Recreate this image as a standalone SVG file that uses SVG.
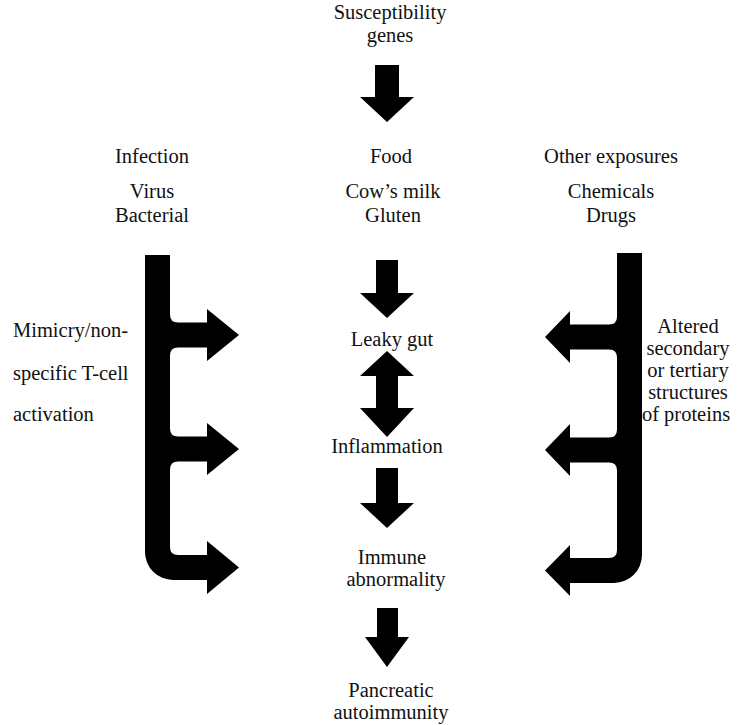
<svg xmlns="http://www.w3.org/2000/svg" width="740" height="725" viewBox="0 0 740 725">
<style>
text{font-family:"Liberation Serif","Times New Roman",serif;font-size:20.5px;fill:#111;}
.c{text-anchor:middle;}
.arr{fill:#000;stroke:none;}
</style>
<rect width="740" height="725" fill="#fff"/>
<g id="genes"><text class="c" x="390" y="19">Susceptibility</text><text class="c" x="390" y="42">genes</text></g>
<g id="infection"><text class="c" x="152" y="163">Infection</text><text class="c" x="152" y="198">Virus</text><text class="c" x="152" y="222">Bacterial</text></g>
<g id="food"><text class="c" x="391" y="163">Food</text><text class="c" x="393" y="198">Cow’s milk</text><text class="c" x="393" y="222">Gluten</text></g>
<g id="other"><text class="c" x="611" y="163">Other exposures</text><text class="c" x="611" y="198">Chemicals</text><text class="c" x="611" y="222">Drugs</text></g>
<g id="leaky"><text class="c" x="392" y="346">Leaky gut</text></g>
<g id="inflammation"><text class="c" x="387" y="453">Inflammation</text></g>
<g id="immune"><text class="c" x="392" y="564">Immune</text><text class="c" x="396" y="586">abnormality</text></g>
<g id="pancreatic"><text class="c" x="391" y="697">Pancreatic</text><text class="c" x="391" y="719">autoimmunity</text></g>
<g id="mimicry"><text x="13" y="337">Mimicry/non-</text><text x="13" y="380">specific T-cell</text><text x="13" y="421">activation</text></g>
<g id="altered"><text class="c" x="688" y="333">Altered</text><text class="c" x="688" y="355">secondary</text><text class="c" x="688" y="377">or tertiary</text><text class="c" x="688" y="399">structures</text><text class="c" x="686" y="421">of proteins</text></g>
<g id="connectors">
<path class="arr" d="M375,65 H399 V97 H414 L387,122 L360,97 H375 Z"/>
<path class="arr" d="M376,260 H398 V293 H414 L387,318 L360,293 H376 Z"/>
<path class="arr" d="M387,351 L414,376 H398 V408 H414 L387,437 L360,408 H376 V376 H360 Z"/>
<path class="arr" d="M376,468 H398 V503 H414 L387,528 L360,503 H376 Z"/>
<path class="arr" d="M377,608 H398 V637 H409 L387,667 L365,637 H377 Z"/>
<path class="arr" d="M145,255 H170 V314.5 Q170,322.5 178,322.5 H207 V309 L239,335 L207,361 V347.5 H178 Q170,347.5 170,355.5 V428.5 Q170,436.5 178,436.5 H207 V423 L239,449 L207,475 V461.5 H178 Q170,461.5 170,469.5 V547 Q170,555 178,555 H207 V541 L239,567.5 L207,594 V580 H173 A28,28 0 0 1 145,552 Z"/>
<path class="arr" d="M617,253 H642 V555 A28,28 0 0 1 614,583 H570 V596 L545,570.5 L570,545 V558 H609 Q617,558 617,550 V470.5 Q617,462.5 609,462.5 H570 V476 L545,450 L570,424 V437.5 H609 Q617,437.5 617,429.5 V357.5 Q617,349.5 609,349.5 H570 V363 L545,337 L570,311 V324.5 H609 Q617,324.5 617,316.5 Z"/>
</g>
</svg>
